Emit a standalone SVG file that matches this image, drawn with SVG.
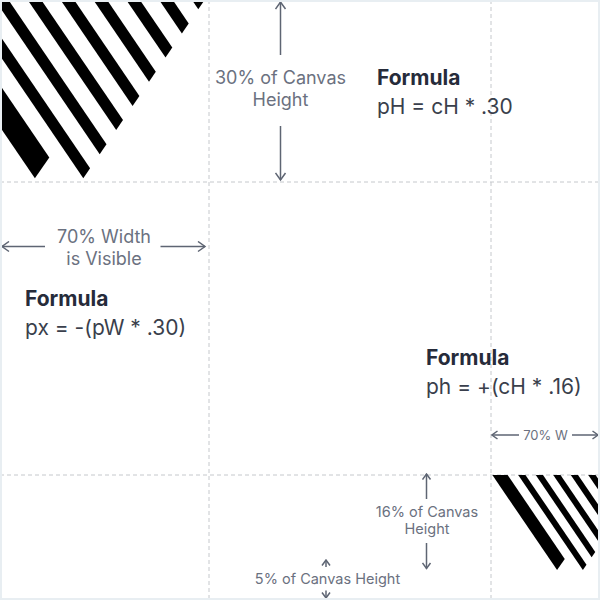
<svg xmlns="http://www.w3.org/2000/svg" width="600" height="600" viewBox="0 0 600 600">
<style>
.grid{stroke:#c5c8cc;stroke-width:1;stroke-dasharray:4 3;fill:none}
.arr{stroke:#5e6573;stroke-width:1.5;fill:none}
.lbl{font-family:Inter,"Noto Sans","Liberation Sans",sans-serif;fill:#6b7180;text-anchor:middle}
.big{font-size:18px}
.sm{font-size:14.5px}
.xs{font-size:13px}
.ft{font-family:Inter,"Noto Sans","Liberation Sans",sans-serif;font-size:21px;font-weight:700;fill:#262b3a}
.fx{font-family:Inter,"Noto Sans","Liberation Sans",sans-serif;font-size:21px;fill:#3a3f4c}
</style>
<defs>
<marker id="ah" markerUnits="userSpaceOnUse" viewBox="0 0 10 12" refX="8" refY="6" markerWidth="10" markerHeight="12" orient="auto">
<path d="M1,1 L8,6 L1,11" fill="none" stroke="#5e6573" stroke-width="1.5"/>
</marker>
<marker id="ahs" markerUnits="userSpaceOnUse" viewBox="0 0 8 10" refX="6.5" refY="5" markerWidth="8" markerHeight="10" orient="auto">
<path d="M1,1 L6.5,5 L1,9" fill="none" stroke="#5e6573" stroke-width="1.5"/>
</marker>
<g id="stripes" fill="#000">
<polygon points="2.6,0 31.2,0 138.3,157.5 123.9,178.3"/>
<polygon points="51,0 64.6,0 179.1,168.3 172.3,178.3"/>
<polygon points="83.9,0 97.5,0 195.5,144.2 188.7,154.2"/>
<polygon points="116.7,0 130.3,0 212,120 205.2,130"/>
<polygon points="149.6,0 163.2,0 228.4,95.9 221.6,105.9"/>
<polygon points="182.4,0 196.1,0 244.8,71.7 238,81.7"/>
<polygon points="215.3,0 228.9,0 261.3,47.6 254.5,57.6"/>
<polygon points="248.2,0 261.8,0 277.7,23.4 270.9,33.4"/>
<polygon points="281,0 293.6,0 287.3,9.3"/>
</g>
</defs>
<rect x="0" y="0" width="600" height="600" fill="#fff"/>
<g id="grid">
<line class="grid" x1="209" y1="0" x2="209" y2="600"/>
<line class="grid" x1="491" y1="0" x2="491" y2="600"/>
<line class="grid" x1="0" y1="182" x2="600" y2="182"/>
<line class="grid" x1="0" y1="475" x2="600" y2="475"/>
</g>
<g id="pattern-top-left"><use href="#stripes" transform="translate(-89,0)"/></g>
<g id="pattern-bottom-right"><use href="#stripes" transform="translate(491,475) scale(0.5333)"/></g>
<g id="connectors">
<line class="arr" x1="280.5" y1="55" x2="280.5" y2="2" marker-end="url(#ah)"/>
<line class="arr" x1="280.5" y1="126" x2="280.5" y2="180" marker-end="url(#ah)"/>
<line class="arr" x1="45" y1="246.5" x2="2" y2="246.5" marker-end="url(#ah)"/>
<line class="arr" x1="160.5" y1="246.5" x2="205" y2="246.5" marker-end="url(#ah)"/>
<line class="arr" x1="519" y1="435" x2="492" y2="435" marker-end="url(#ahs)"/>
<line class="arr" x1="572" y1="435" x2="598" y2="435" marker-end="url(#ahs)"/>
<line class="arr" x1="426.5" y1="499" x2="426.5" y2="474" marker-end="url(#ahs)"/>
<line class="arr" x1="426.5" y1="543" x2="426.5" y2="568.5" marker-end="url(#ahs)"/>
<line class="arr" x1="326" y1="567" x2="326" y2="560" marker-end="url(#ahs)"/>
<line class="arr" x1="326" y1="590.5" x2="326" y2="598" marker-end="url(#ahs)"/>
</g>
<g id="label-30-height"><text class="lbl big" x="280.5" y="84">30% of Canvas</text><text class="lbl big" x="280.5" y="105.5">Height</text></g>
<g id="label-70-width"><text class="lbl big" x="104" y="243">70% Width</text><text class="lbl big" x="104" y="264.5">is Visible</text></g>
<g id="label-70-w"><text class="lbl xs" x="545.5" y="439.5">70% W</text></g>
<g id="label-16-height"><text class="lbl sm" x="427" y="516.5">16% of Canvas</text><text class="lbl sm" x="427" y="534">Height</text></g>
<g id="label-5-height"><text class="lbl sm" x="327.5" y="584">5% of Canvas Height</text></g>
<g id="formula-top"><text class="ft" x="377" y="85">Formula</text><text class="fx" x="377" y="114">pH = cH * .30</text></g>
<g id="formula-left"><text class="ft" x="25" y="306">Formula</text><text class="fx" x="25" y="335">px = -(pW * .30)</text></g>
<g id="formula-right"><text class="ft" x="426" y="365">Formula</text><text class="fx" x="426" y="394">ph = +(cH * .16)</text></g>
<rect id="frame" x="1" y="1" width="598" height="598" fill="none" stroke="#e8eef2" stroke-width="2"/>
</svg>
